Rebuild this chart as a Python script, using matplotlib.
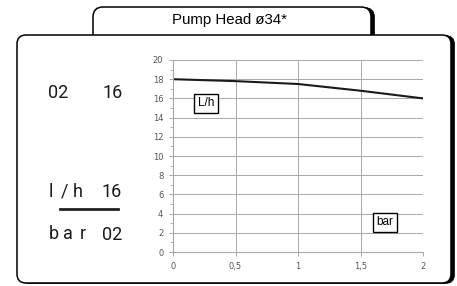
import matplotlib
matplotlib.use("Agg")
import matplotlib.pyplot as plt
from matplotlib.patches import FancyBboxPatch
from matplotlib.ticker import MultipleLocator

# data
flow_bar = [0, 0.5, 1, 1.5, 2]
flow_lh = [18, 17.8, 17.5, 16.8, 16]
xtick_vals = [0, 0.5, 1, 1.5, 2]
xtick_labels = ["0", "0,5", "1", "1,5", "2"]
ytick_vals = list(range(0, 21, 2))

W, H = 457, 286
fig = plt.figure(figsize=(W / 100, H / 100), dpi=100)

# background layer in pixel coords
bg = fig.add_axes([0, 0, 1, 1])
bg.set_xlim(0, W)
bg.set_ylim(H, 0)
bg.axis("off")

def rbox(x0, y0, x1, y1, r, lw=1.1):
    # thin shadow on the right, then the white box
    bg.add_patch(FancyBboxPatch((x0 + 3.5, y0 + 0.5), x1 - x0, y1 - y0,
                                boxstyle=f"round,pad=0,rounding_size={r}",
                                fc="black", ec="black", lw=0.5))
    bg.add_patch(FancyBboxPatch((x0, y0), x1 - x0, y1 - y0,
                                boxstyle=f"round,pad=0,rounding_size={r}",
                                fc="white", ec="black", lw=lw))

rbox(93, 7, 371, 45, 10)
rbox(17, 35, 451, 283, 9)

bg.text(229, 20, "Pump Head ø34*", ha="center", va="center",
        fontsize=10.8, family="Liberation Sans")

lf = dict(ha="center", va="center", fontsize=13, family="Roboto",
          color="#1a1a1a")
bg.text(58, 93, "02", **lf)
bg.text(113, 93, "16", **lf)
for ch, x in zip("l/h", [51, 65, 78]):
    bg.text(x, 192, ch, **lf)
bg.text(112, 192, "16", **lf)
bg.plot([60, 118], [209, 209], color="#222222", lw=2)
for ch, x in zip("bar", [54, 68, 83]):
    bg.text(x, 234, ch, **lf)
bg.text(112, 235, "02", **lf)

ax = fig.add_axes([173 / W, (H - 252) / H, 250 / W, 192 / H])
ax.plot(flow_bar, flow_lh, color="#1a1a1a", lw=1.5)
ax.set_xlim(0, 2)
ax.set_ylim(0, 20)
ax.set_xticks(xtick_vals)
ax.set_xticklabels(xtick_labels)
ax.set_yticks(ytick_vals)
ax.yaxis.set_minor_locator(MultipleLocator(1))
ax.grid(True, color="#a8a8a8", lw=0.7)
for s in ax.spines.values():
    s.set_color("#a8a8a8")
ax.spines["top"].set_visible(False)
ax.spines["right"].set_visible(False)
ax.tick_params(colors="#a8a8a8", labelcolor="#555555", labelsize=6,
               length=3, width=0.7, pad=4)
ax.tick_params(which="minor", colors="#a8a8a8", length=2, width=0.6)

box = dict(boxstyle="square,pad=0.3", fc="white", ec="black", lw=1)
ax.text(0.264, 15.5, "L/h", ha="center", va="center", fontsize=8.5, bbox=box,
        family="Liberation Sans")
ax.text(1.696, 3.1, "bar", ha="center", va="center", fontsize=8.5, bbox=box,
        family="Liberation Sans")

fig.savefig("out.png", dpi=100)
